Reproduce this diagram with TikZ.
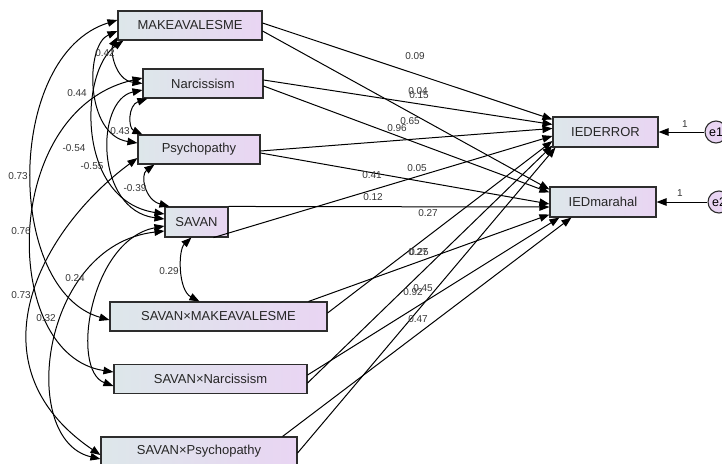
\documentclass[tikz,border=0pt]{standalone}
\usepackage{fontspec}
\setmainfont{Liberation Sans}
\usetikzlibrary{arrows.meta,calc}
\definecolor{boxL}{RGB}{221,231,234}
\definecolor{boxR}{RGB}{233,213,243}
\definecolor{edgec}{RGB}{45,45,45}
\definecolor{labc}{RGB}{55,55,55}
\tikzset{
  var/.style={draw=edgec, line width=1.1pt, left color=boxL, right color=boxR, inner sep=0pt, font=\fontsize{13}{15}\selectfont, text=black!85},
  errc/.style={circle, draw=edgec, line width=1.1pt, fill=boxR, minimum size=22pt, inner sep=0pt, font=\fontsize{12.5}{14}\selectfont},
  lbl/.style={font=\fontsize{10}{12}\selectfont, text=labc, inner sep=0pt},
  reg/.style={line width=1pt, -{Triangle[length=10pt,width=7.5pt]}},
  cov/.style={line width=1pt, {Triangle[length=10pt,width=7.5pt]}-{Triangle[length=10pt,width=7.5pt]}},
}
\begin{document}
\begin{tikzpicture}[x=1pt,y=-1pt]
\useasboundingbox (0,0) rectangle (722,463);
\fill[white] (0,0) rectangle (722,463);
% variables
\node[var, minimum width=144pt, minimum height=29pt] (MK) at (190,25.5) {MAKEAVALESME};
\node[var, minimum width=120pt, minimum height=29pt] (NA) at (203,83.5) {Narcissism};
\node[var, minimum width=122pt, minimum height=29pt] (PS) at (199,149.5) {Psychopathy};
\node[var, minimum width=63pt, minimum height=30pt] (SV) at (196.5,222) {SAVAN};
\node[var, minimum width=217pt, minimum height=29pt] (SM) at (218.5,316.5) {SAVAN×MAKEAVALESME};
\node[var, minimum width=193pt, minimum height=29pt] (SN) at (210.5,379) {SAVAN×Narcissism};
\node[var, minimum width=196pt, minimum height=29pt] (SP) at (199,451.5) {SAVAN×Psychopathy};
\node[var, minimum width=105pt, minimum height=30pt] (IE) at (605.5,132) {IEDERROR};
\node[var, minimum width=106pt, minimum height=30pt] (IM) at (603,202) {IEDmarahal};
\node[errc] (E1) at (716,132) {e1};
\node[errc] (E2) at (719,202) {e2};
% error paths
\draw[reg] (E1) -- (IE);
\draw[reg] (E2) -- (IM);
\node[lbl] (l1a) at (685,124) {1};
\node[lbl] (l1b) at (680,193) {1};
% regression paths
\draw[reg] ([yshift=2.5pt]MK.east) -- ([yshift=-3pt]IE.north west);
\draw[reg] ([yshift=-5.5pt]MK.east) -- ([yshift=-3pt]IM.north west);
\draw[reg] ([yshift=3.5pt]NA.east) -- ([yshift=-8pt]IE.north west);
\draw[reg] ([yshift=-2.5pt]NA.east) -- ([yshift=-6pt]IM.north west);
\draw[reg] ([yshift=-1.5pt]PS.east) -- ([yshift=-12pt]IE.north west);
\draw[reg] ([yshift=-3.5pt]PS.east) -- ([yshift=-2pt]IM.west);
\draw[reg] ([xshift=-15pt]SV.south east) -- ([yshift=-4pt]IE.west);
\draw[reg] (SV.north east) -- ([yshift=-5pt]IM.west);
\draw[reg] ([yshift=3.5pt]SM.east) -- ([yshift=-9pt]IE.west);
\draw[reg] ([xshift=-19pt]SM.north east) -- ([yshift=3pt]IM.south west);
\draw[reg] ([yshift=-4pt]SN.east) -- ([yshift=2pt]IE.south west);
\draw[reg] ([yshift=4pt]SN.east) -- ([xshift=10pt]IM.south west);
\draw[reg] ([yshift=-1.5pt]SP.east) -- ([xshift=3pt]IE.south west);
\draw[reg] ([xshift=-15pt]SP.north east) -- ([xshift=22pt]IM.south west);
% regression labels
\node[lbl] (r1) at (415,56) {0.09};
\node[lbl] (r2) at (418,91) {0.04};
\node[lbl] (r3) at (419,95) {0.15};
\node[lbl] (r4) at (410,121) {0.65};
\node[lbl] (r5) at (397,128) {0.96};
\node[lbl] (r6) at (417,168) {0.05};
\node[lbl] (r7) at (372,175) {0.41};
\node[lbl] (r8) at (373,197) {0.12};
\node[lbl] (r9) at (428,213) {0.27};
\node[lbl] (r10) at (418,252) {0.27};
\node[lbl] (r11) at (419,252) {0.25};
\node[lbl] (r12) at (413,292) {0.92};
\node[lbl] (r13) at (423,288) {0.45};
\node[lbl] (r14) at (418,319) {0.47};
% covariances
\draw[cov] ([yshift=-11.5pt]MK.west) .. controls (110,50) and (115,80) .. (NA.west);
\draw[cov] ([xshift=5pt]NA.south west) .. controls (128,105) and (128,128) .. ([xshift=5pt]PS.north west);
\draw[cov] ([xshift=17pt]PS.south west) .. controls (140,175) and (145,200) .. ([xshift=5pt]SV.north west);
\draw[cov] ([xshift=27pt]SV.south west) .. controls (178,250) and (178,290) .. ([xshift=90pt]SM.north west);
\draw[cov] ([yshift=-5.5pt]MK.west) .. controls (85,45) and (85,135) .. ([yshift=6.5pt]PS.west);
\draw[cov] ([xshift=6pt]MK.south west) .. controls (80,70) and (75,200) .. ([yshift=8pt]SV.west);
\draw[cov] ([yshift=-6.5pt]NA.west) .. controls (95,100) and (95,210) .. ([yshift=3pt]SV.west);
\draw[cov] ([yshift=5.5pt]MK.west) .. controls (5,55) and (5,290) .. ([yshift=-3.5pt]SM.west);
\draw[cov] ([yshift=5.5pt]NA.west) .. controls (0,110) and (0,355) .. ([yshift=7pt]SN.west);
\draw[cov] ([yshift=-8.5pt]PS.west) .. controls (40,230) and (-32,365) .. ([yshift=-3.5pt]SP.west);
\draw[cov] ([yshift=-4pt]SV.west) .. controls (90,240) and (70,370) .. ([yshift=-7pt]SN.west);
\draw[cov] ([yshift=-9pt]SV.west) .. controls (40,245) and (18,440) .. ([yshift=-7.5pt]SP.west);
% covariance labels
\node[lbl] (c1) at (105,53) {0.42};
\node[lbl] (c2) at (77,93) {0.44};
\node[lbl] (c3) at (120,131) {0.43};
\node[lbl] (c4) at (74,148) {-0.54};
\node[lbl] (c5) at (92,166) {-0.55};
\node[lbl] (c6) at (135,188) {-0.39};
\node[lbl] (c7) at (18,176) {0.73};
\node[lbl] (c8) at (21,231) {0.76};
\node[lbl] (c9) at (21,295) {0.73};
\node[lbl] (c10) at (75,278) {0.24};
\node[lbl] (c11) at (46,318) {0.32};
\node[lbl] (c12) at (169,271) {0.29};
\end{tikzpicture}
\end{document}
